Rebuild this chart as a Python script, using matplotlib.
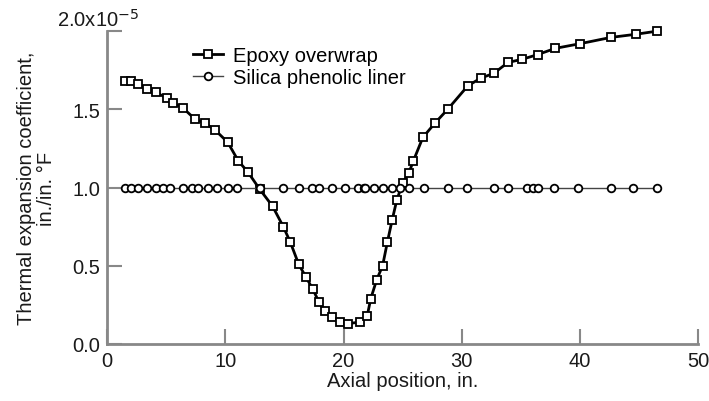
import matplotlib
matplotlib.use("Agg")
import matplotlib.pyplot as plt

# Epoxy overwrap (units of 1e-5 in./in. F)
epoxy_x = [1.5, 2.0, 2.6, 3.4, 4.1, 5.1, 5.6, 6.4, 7.4, 8.3, 9.1, 10.2, 11.1, 11.9,
           12.9, 14.0, 14.9, 15.5, 16.2, 16.8, 17.4, 17.9, 18.4, 19.0, 19.7, 20.4,
           21.4, 22.0, 22.3, 22.8, 23.3, 23.7, 24.1, 24.5, 25.0, 25.5, 25.9, 26.7,
           27.7, 28.8, 30.5, 31.6, 32.7, 33.9, 35.1, 36.4, 37.9, 40.0, 42.6, 44.7, 46.5]
epoxy_y = [1.68, 1.68, 1.66, 1.63, 1.61, 1.57, 1.54, 1.51, 1.44, 1.41, 1.37, 1.29, 1.17, 1.10,
           0.99, 0.88, 0.75, 0.65, 0.51, 0.43, 0.35, 0.27, 0.21, 0.17, 0.14, 0.13,
           0.14, 0.18, 0.29, 0.41, 0.50, 0.65, 0.79, 0.92, 1.03, 1.09, 1.17, 1.32,
           1.41, 1.50, 1.65, 1.70, 1.73, 1.80, 1.82, 1.85, 1.89, 1.92, 1.96, 1.98, 2.00]

# Silica phenolic liner
silica_x = [1.5, 2.0, 2.6, 3.4, 4.1, 4.7, 5.3, 6.4, 7.2, 7.7, 8.5, 9.3, 10.2, 11.0,
            12.9, 14.9, 16.2, 17.3, 17.9, 19.0, 20.1, 21.2, 21.7, 21.8, 22.6, 23.3,
            24.1, 24.8, 25.5, 26.8, 28.8, 30.4, 32.7, 33.9, 35.5, 36.0, 36.4, 37.8,
            39.8, 42.6, 44.5, 46.5]
silica_y = [1.0] * len(silica_x)

ytick_vals = [0.0, 0.5, 1.0, 1.5, 2.0]
ytick_labels = ["0.0", "0.5", "1.0", "1.5", ""]
xtick_vals = [0, 10, 20, 30, 40, 50]

plt.rcParams['font.family'] = ['Liberation Sans', 'DejaVu Sans']
plt.rcParams['font.size'] = 14.5

fig = plt.figure(figsize=(7.09, 4.02), dpi=100)
ax = fig.add_axes([0.151, 0.142, 0.834, 0.778])

ax.plot(epoxy_x, epoxy_y, color='black', lw=2.0, marker='s', ms=5.5,
        mfc='white', mec='black', mew=1.3, label='Epoxy overwrap', clip_on=False)
ax.plot(silica_x, silica_y, color='#444444', lw=1.0, marker='o', ms=5.5,
        mfc='white', mec='black', mew=1.3, label='Silica phenolic liner', clip_on=False)

ax.set_xlim(0, 50)
ax.set_ylim(0, 2.0)
ax.set_xticks(xtick_vals)
ax.set_yticks(ytick_vals)
ax.set_yticklabels(ytick_labels)
ax.text(2.7, 2.08, r"2.0x10$^{-5}$", ha='right', va='center', color='#1a1a1a',
        clip_on=False)

for s in ['top', 'right']:
    ax.spines[s].set_visible(False)
for s in ['left', 'bottom']:
    ax.spines[s].set_color('#888888')
    ax.spines[s].set_linewidth(2)
ax.tick_params(direction='in', length=11, width=1.5, color='#888888',
               labelcolor='#1a1a1a', pad=5)

ax.set_xlabel("Axial position, in.", color='#1a1a1a', labelpad=1)
ax.set_ylabel("Thermal expansion coefficient,\nin./in. \u00b0F", color='#1a1a1a',
              labelpad=12, linespacing=1.05)

ax.legend(loc='upper left', bbox_to_anchor=(0.125, 0.99), frameon=False,
          handlelength=1.5, handletextpad=0.5, labelspacing=0.12, borderaxespad=0.2)

fig.savefig("out.png", dpi=100)
